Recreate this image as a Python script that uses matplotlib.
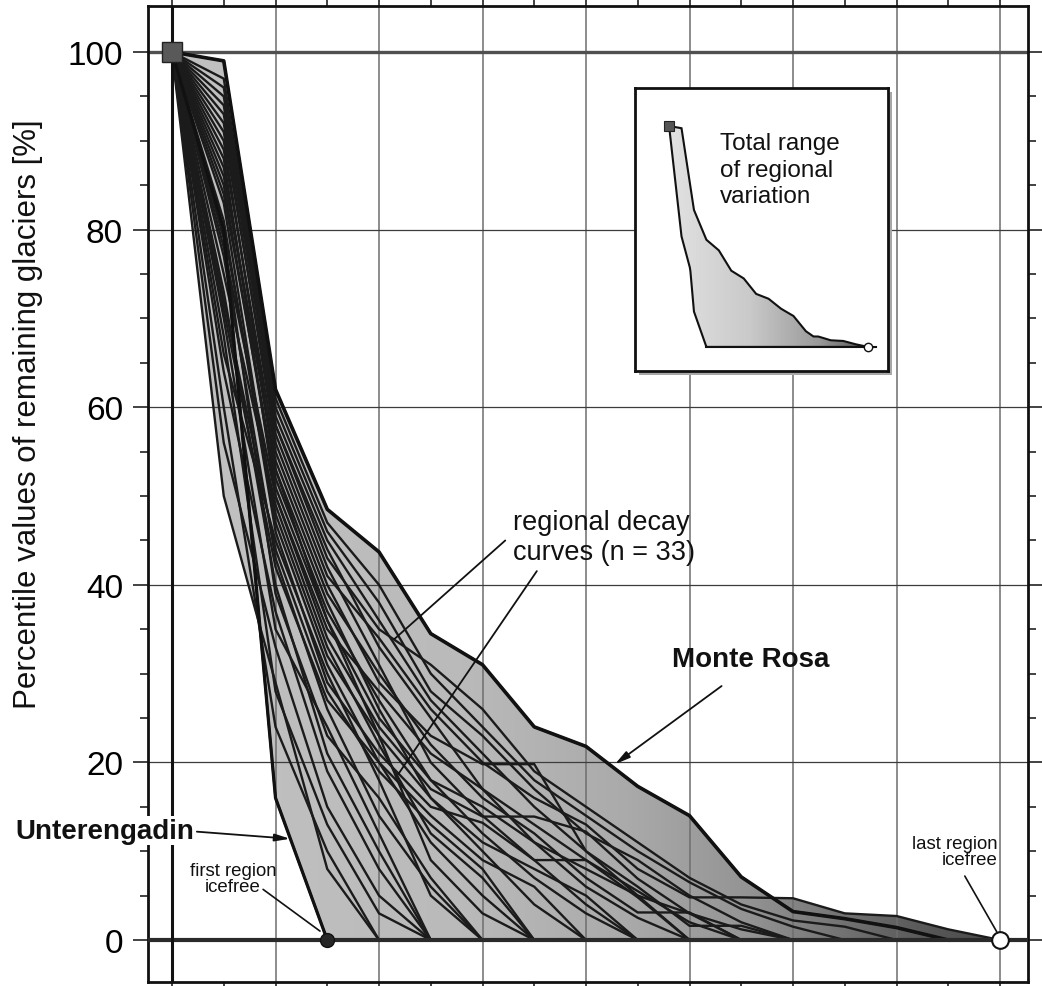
import numpy as np
import matplotlib
matplotlib.use('Agg')
import matplotlib.pyplot as plt
from matplotlib.colors import LinearSegmentedColormap
from matplotlib.patches import Polygon, Rectangle

plt.rcParams['font.family'] = ['Liberation Sans', 'DejaVu Sans']

# ---------------- data ----------------
x_values = [0.0, 0.5, 1.0, 1.5, 2.0, 2.5, 3.0, 3.5, 4.0, 4.5, 5.0, 5.5, 6.0, 6.5, 7.0, 7.5, 8.0]

unterengadin = [100, 80, 16, 0]
region_02 = [100, 50, 29, 8, 0]
region_03 = [100, 60, 24, 10, 0]
region_04 = [100, 56, 33, 15, 5, 0]
region_05 = [100, 68, 28, 13, 3, 0]
region_06 = [100, 64, 37, 19, 8, 0]
region_07 = [100, 73, 40, 21, 10, 0]
region_08 = [100, 70, 35, 24, 12, 0]
region_09 = [100, 77, 43, 26, 14, 6, 0]
region_10 = [100, 79, 39, 23, 16, 7, 0]
region_11 = [100, 66, 45, 30, 18, 5, 0]
region_12 = [100, 83, 47, 31, 20, 11, 5, 0]
region_13 = [100, 75, 49, 33, 22, 12, 7, 0]
region_14 = [100, 85, 51, 36, 23, 9, 3, 0]
region_15 = [100, 72, 44, 28, 19, 13, 8, 0]
region_16 = [100, 87, 53, 38, 26, 16, 10, 4, 0]
region_17 = [100, 81, 46, 29, 21, 15, 13.2, 9, 9, 4.8, 0]
region_18 = [100, 89, 55, 40, 29, 23, 19.8, 19.8, 10, 5, 0]
region_19 = [100, 78, 50, 34, 24, 17, 13.9, 13.9, 12.2, 6.9, 3, 0]
region_20 = [100, 91, 57, 42, 31, 20, 14, 9, 4, 0]
region_21 = [100, 84, 52, 37, 27, 18, 12, 7, 3, 0]
region_22 = [100, 93, 58, 44, 33, 25, 17, 11, 6, 2.5, 0]
region_23 = [100, 86, 54, 39, 30, 22, 16, 12, 7, 3.1, 3.1, 0]
region_24 = [100, 95, 59, 45, 36, 27, 21, 15, 10, 6, 1.6, 1.6, 0]
region_25 = [100, 92, 56, 41, 34, 26, 20, 16, 13, 8, 4.8, 4.8, 4.7, 3.0, 2.7, 1.2, 0]
region_26 = [100, 96, 60, 46, 38, 28, 23, 17, 12, 9, 5, 2, 0]
region_27 = [100, 97, 61, 47, 40, 30, 24, 18, 14, 10, 6.5, 3.5, 1.5, 0]
region_28 = [100, 94, 58, 43, 35, 31, 26, 19, 15, 11, 7, 4, 2.2, 1.5, 0]
monte_rosa = [100, 99, 62, 48.5, 43.7, 34.5, 31, 24, 21.8, 17.3, 14, 7.1, 3.2, 2.4, 1.4, 0]
region_30 = [100, 90, 53, 36, 25, 18, 15, 11, 8, 5, 3, 1.2, 0]
region_31 = [100, 88, 50, 35, 28, 21, 17, 13, 9, 5.5, 2, 0]
region_32 = [100, 80, 48, 32, 23, 16, 11, 8, 5, 0]
region_33 = [100, 71, 42, 27, 20, 14, 9, 6, 0]

curves = [unterengadin, region_02, region_03, region_04, region_05, region_06,
          region_07, region_08, region_09, region_10, region_11, region_12,
          region_13, region_14, region_15, region_16, region_17, region_18,
          region_19, region_20, region_21, region_22, region_23, region_24,
          region_25, region_26, region_27, region_28, monte_rosa, region_30,
          region_31, region_32, region_33]

y_ticks = [0, 20, 40, 60, 80, 100]
y_label = 'Percentile values of remaining glaciers [%]'

# ---------------- figure ----------------
W, H = 1042, 987
fig = plt.figure(figsize=(W / 100, H / 100), dpi=100)
ax = fig.add_axes([148 / W, 4 / H, 880 / W, 976 / H])
ax.set_zorder(0)

# envelope of all curves
xs = np.linspace(0, 8, 1601)
Y = np.array([np.interp(xs, x_values[:len(c)], c, right=0.0) for c in curves])
upper = Y.max(axis=0)
lower = Y.min(axis=0)
verts = np.concatenate([np.column_stack([xs, upper]),
                        np.column_stack([xs[::-1], lower[::-1]])])

main_cmap = LinearSegmentedColormap.from_list(
    'g', [(0.0, '#c2c2c2'), (0.35, '#bababa'), (0.55, '#aaaaaa'),
          (0.7, '#939393'), (0.82, '#707070'), (0.92, '#565656'), (1.0, '#4a4a4a')])
grad = np.linspace(0, 1, 512).reshape(1, -1)
poly = Polygon(verts, closed=True, transform=ax.transData)
im = ax.imshow(grad, extent=[0, 8, 0, 100], aspect='auto', cmap=main_cmap,
               origin='lower', zorder=1, interpolation='bilinear')
im.set_clip_path(poly)

# grid
for gx in np.arange(1, 9):
    ax.axvline(gx, color='#6e6e6e', lw=1.1, zorder=2)
for gy in [20, 40, 60, 80]:
    ax.axhline(gy, color='#3c3c3c', lw=0.9, zorder=2)
ax.axhline(100, color='#505050', lw=2.4, zorder=2)

# curves
for c in curves:
    ax.plot(x_values[:len(c)], c, color='#1b1b1b', lw=1.7, zorder=3,
            solid_joinstyle='miter')
ax.plot(x_values[:len(monte_rosa)], monte_rosa, color='#111111', lw=2.6, zorder=4)
ax.plot(x_values[:len(unterengadin)], unterengadin, color='#111111', lw=2.3, zorder=4)

ax.axhline(0, color='#2a2a2a', lw=3.0, zorder=5)
ax.axvline(0, color='#111111', lw=2.2, zorder=5)

# markers
ax.plot([0], [100], marker='s', ms=15, mfc='#595959', mec='#222222', mew=1,
        zorder=8, clip_on=False)
ax.plot([1.5], [0], marker='o', ms=10, mfc='#262626', mec='#111111', zorder=8)
ax.plot([8], [0], marker='o', ms=12, mfc='white', mec='#111111', mew=1.5, zorder=8)

# axes limits/ticks
ax.set_xlim(-0.2319, 8.2705)
ax.set_ylim(-4.73, 105.18)
ax.set_xticks(np.arange(0, 8.01, 0.5))
ax.set_xticklabels([])
ax.set_yticks(y_ticks)
ax.set_yticks(np.arange(0, 101, 5), minor=True)
ax.tick_params(axis='x', which='both', direction='out', length=5, width=1.2,
               top=True, bottom=True, color='#222222')
ax.tick_params(axis='y', which='major', direction='out', length=11, width=1.2,
               left=True, right=True, labelsize=24, pad=7, color='#222222')
ax.tick_params(axis='y', which='minor', direction='out', length=6, width=1.2,
               left=True, right=True, color='#222222')
for s in ax.spines.values():
    s.set_linewidth(2.0)
    s.set_color('#111111')

fig.text(28 / W, 1 - 414 / H, y_label, rotation=90, ha='center', va='center',
         fontsize=22.5, color='#111111')

# annotations
tc = '#111111'
ax.text(3.29, 45.4, 'regional decay\ncurves (n = 33)', fontsize=19.5, ha='left',
        va='center', linespacing=1.17, color=tc, zorder=9)
ax.annotate('', xy=(2.13, 33.7), xytext=(3.24, 45.2),
            arrowprops=dict(arrowstyle='-', lw=1.3, color=tc), zorder=9)
ax.annotate('', xy=(2.17, 18.4), xytext=(3.54, 41.8),
            arrowprops=dict(arrowstyle='-', lw=1.3, color=tc), zorder=9)

ax.text(5.594, 31.6, 'Monte Rosa', fontsize=20, fontweight='bold', ha='center',
        va='center', color=tc, zorder=9)
ax.annotate('', xy=(4.28, 19.8), xytext=(5.31, 28.6),
            arrowprops=dict(arrowstyle='-|>,head_length=0.9,head_width=0.22',
                            lw=1.3, color=tc, shrinkA=0, shrinkB=0), zorder=9)

ax.text(0.215, 12.3, 'Unterengadin', fontsize=20, fontweight='bold', ha='right',
        va='center', color=tc, zorder=10,
        bbox=dict(fc='white', ec='none', pad=1.0))
ax.annotate('', xy=(1.14, 11.4), xytext=(0.24, 12.2), annotation_clip=False,
            arrowprops=dict(arrowstyle='-|>,head_length=0.9,head_width=0.22',
                            lw=1.3, color=tc, shrinkA=0, shrinkB=0), zorder=9)

ax.text(0.59, 6.9, 'first region\nicefree', fontsize=13.4, ha='center', va='center',
        linespacing=0.96, color=tc, zorder=9)
ax.annotate('', xy=(1.43, 1.0), xytext=(0.88, 5.7),
            arrowprops=dict(arrowstyle='-', lw=1.2, color=tc, shrinkA=0, shrinkB=0),
            zorder=9)

ax.text(7.98, 10.0, 'last region\nicefree', fontsize=13.4, ha='right', va='center',
        linespacing=0.92, color=tc, zorder=9)
ax.annotate('', xy=(7.97, 0.9), xytext=(7.66, 7.2),
            arrowprops=dict(arrowstyle='-', lw=1.2, color=tc, shrinkA=0, shrinkB=0),
            zorder=9)

# ---------------- inset ----------------
shadow = Rectangle(((635 + 4) / W, (H - 372 - 4) / H), 253 / W, 283 / H,
                   transform=fig.transFigure, fc='#a8a8a8', ec='none', zorder=1.5)
fig.patches.append(shadow)
iax = fig.add_axes([635 / W, (H - 372) / H, 253 / W, 283 / H])
iax.set_zorder(2)
iax.set_xticks([])
iax.set_yticks([])
for s in iax.spines.values():
    s.set_linewidth(2.0)
    s.set_color('#111111')
inset_cmap = LinearSegmentedColormap.from_list(
    'gi', [(0.0, '#e2e2e2'), (0.4, '#cacaca'), (0.75, '#9a9a9a'), (1.0, '#555555')])
ipoly = Polygon(verts, closed=True, transform=iax.transData)
iim = iax.imshow(grad, extent=[0, 8, 0, 100], aspect='auto', cmap=inset_cmap,
                 origin='lower', zorder=1, interpolation='bilinear')
iim.set_clip_path(ipoly)
iax.add_patch(Polygon(verts, closed=True, fc='none', ec='#111111', lw=1.5, zorder=2))
iax.plot([1.5, 8.3], [0, 0], color='#111111', lw=1.5, zorder=2)
iax.plot([0], [100], marker='s', ms=7, mfc='#555555', mec='#222222', mew=0.8, zorder=3)
iax.plot([8], [0], marker='o', ms=6, mfc='white', mec='#111111', mew=1.0, zorder=3)
iax.set_xlim(-1.37, 8.8)
iax.set_ylim(-10.9, 117.2)
iax.text(2.05, 97.3, 'Total range\nof regional\nvariation', fontsize=17.5,
         ha='left', va='top', linespacing=1.27, color=tc)

fig.savefig('out.png', dpi=100)
